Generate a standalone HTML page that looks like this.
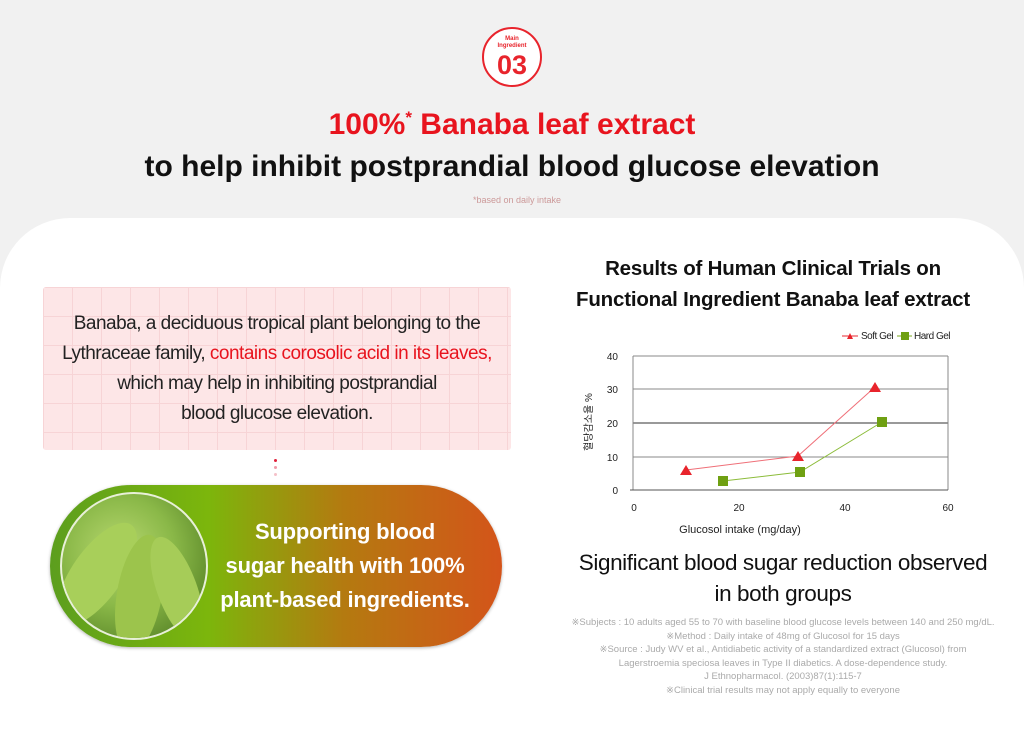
<!DOCTYPE html>
<html><head><meta charset="utf-8"><style>
*{margin:0;padding:0;box-sizing:border-box}
body{width:1024px;height:726px;background:#f1f1f1;position:relative;overflow:hidden;font-family:"Liberation Sans",sans-serif}
.abs{position:absolute}
.c{text-align:center}
</style></head><body>
<div class="abs" style="left:0;top:218px;width:1024px;height:520px;background:#fff;border-radius:70px 70px 0 0"></div>
<div class="abs" style="left:482px;top:27px;width:60px;height:60px;border:2px solid #e8242c;border-radius:50%;background:#fff"></div>
<div class="abs c" style="left:482px;top:36px;width:60px;font-size:6px;line-height:7px;color:#e8242c;font-weight:bold">Main<br>Ingredient</div>
<div class="abs c" style="left:482px;top:50px;width:60px;font-size:27px;line-height:30px;color:#e8242c;font-weight:bold">03</div>
<div class="abs c" style="left:0;top:108px;width:1024px;font-size:30px;font-weight:bold;color:#e8141e">100%<sup style="font-size:17px">*</sup> Banaba leaf extract</div>
<div class="abs c" style="left:0;top:150px;width:1024px;font-size:30px;font-weight:bold;color:#111">to help inhibit postprandial blood glucose elevation</div>
<div class="abs c" style="left:0;top:195px;width:1034px;font-size:9px;color:#c99">*based on daily intake</div>

<div class="abs" style="left:43px;top:287px;width:468px;height:163px;background-color:#fde6e7;background-image:linear-gradient(#f7d4d6 1px,transparent 1px),linear-gradient(90deg,#f7d4d6 1px,transparent 1px);background-size:29px 29px;border-radius:3px"></div>
<div class="abs c" style="left:30px;top:309px;width:494px;font-size:19px;line-height:30px;color:#222;letter-spacing:-0.5px">Banaba, a deciduous tropical plant belonging to the<br>Lythraceae family, <span style="color:#e8141e">contains corosolic acid in its leaves,</span><br>which may help in inhibiting postprandial<br>blood glucose elevation.</div>
<div class="abs" style="left:274px;top:459px;width:3px;height:3px;border-radius:50%;background:#e0203a"></div>
<div class="abs" style="left:274px;top:466px;width:3px;height:3px;border-radius:50%;background:#f09aa8"></div>
<div class="abs" style="left:274px;top:473px;width:3px;height:3px;border-radius:50%;background:#f5c0c8"></div>

<div class="abs" style="left:50px;top:485px;width:452px;height:162px;border-radius:81px;background:linear-gradient(90deg,#5c9e1e 0%,#7cb60c 35%,#b47a10 65%,#d4541a 100%);box-shadow:0 1px 3px rgba(0,0,0,.3)"></div>
<div class="abs" style="left:60px;top:492px;width:148px;height:148px;border-radius:50%;border:2px solid #e8f0d8;background:radial-gradient(circle at 40% 40%,#b8d870,#8ab848 45%,#5d8a2a 80%,#3f6320);overflow:hidden">
<div class="abs" style="left:10px;top:20px;width:50px;height:120px;background:#a8cf5a;border-radius:50%;transform:rotate(35deg)"></div>
<div class="abs" style="left:55px;top:40px;width:45px;height:120px;background:#9cc44c;border-radius:50%;transform:rotate(10deg)"></div>
<div class="abs" style="left:95px;top:40px;width:40px;height:110px;background:#a6cc58;border-radius:50%;transform:rotate(-20deg)"></div>
</div>
<div class="abs c" style="left:200px;top:515px;width:290px;font-size:22px;font-weight:bold;line-height:34px;color:#fff;letter-spacing:-0.2px">Supporting blood<br>sugar health with 100%<br>plant-based ingredients.</div>

<div class="abs c" style="left:530px;top:253px;width:486px;font-size:20.5px;line-height:31px;color:#111;font-weight:bold;letter-spacing:-0.2px">Results of Human Clinical Trials on<br>Functional Ingredient Banaba leaf extract</div>

<svg class="abs" style="left:0;top:0" width="1024" height="726">
<g font-family="Liberation Sans" font-size="10" fill="#222">
<polygon points="847,339 853,339 850,333" fill="#e8242c"/><line x1="842" y1="336" x2="858" y2="336" stroke="#e8242c"/>
<text x="861" y="339" letter-spacing="-0.5">Soft Gel</text>
<line x1="897" y1="336" x2="912" y2="336" stroke="#7aaa1e"/><rect x="901" y="332" width="8" height="8" fill="#6fa012"/>
<text x="914" y="339" letter-spacing="-0.5">Hard Gel</text>
<g stroke="#888" stroke-width="1"><line x1="633" y1="356" x2="948" y2="356"/><line x1="633" y1="389" x2="948" y2="389"/><line x1="633" y1="457" x2="948" y2="457"/></g>
<line x1="633" y1="423" x2="948" y2="423" stroke="#333"/>
<line x1="633" y1="356" x2="633" y2="490" stroke="#888"/><line x1="948" y1="356" x2="948" y2="490" stroke="#888"/>
<line x1="630" y1="490" x2="948" y2="490" stroke="#555"/>
<g text-anchor="end"><text x="618" y="360">40</text><text x="618" y="393">30</text><text x="618" y="427">20</text><text x="618" y="461">10</text><text x="618" y="494">0</text></g>
<g text-anchor="middle"><text x="634" y="511">0</text><text x="739" y="511">20</text><text x="845" y="511">40</text><text x="948" y="511">60</text></g>
<text x="740" y="533" text-anchor="middle" font-size="11">Glucosol intake (mg/day)</text>
<text x="0" y="0" transform="translate(592,422) rotate(-90)" text-anchor="middle" font-size="10" font-family="Liberation Sans,Noto Sans CJK KR,sans-serif">혈당감소율 %</text>
<polyline points="686,470 798,456 875,387" fill="none" stroke="#ef6f78"/>
<polyline points="723,481 800,472 882,422" fill="none" stroke="#8cbc3a"/>
<g fill="#e8242c"><polygon points="680,475 692,475 686,465"/><polygon points="792,461 804,461 798,451"/><polygon points="869,392 881,392 875,382"/></g>
<g fill="#6fa012"><rect x="718" y="476" width="10" height="10"/><rect x="795" y="467" width="10" height="10"/><rect x="877" y="417" width="10" height="10"/></g>
</g>
</svg>

<div class="abs c" style="left:530px;top:547px;width:506px;font-size:22.5px;line-height:31px;color:#111;letter-spacing:-0.4px">Significant blood sugar reduction observed<br>in both groups</div>
<div class="abs c" style="left:540px;top:616px;width:486px;font-size:9.5px;line-height:13.6px;color:#aaa">※Subjects : 10 adults aged 55 to 70 with baseline blood glucose levels between 140 and 250 mg/dL.<br>※Method : Daily intake of 48mg of Glucosol for 15 days<br>※Source : Judy WV et al., Antidiabetic activity of a standardized extract (Glucosol) from<br>Lagerstroemia speciosa leaves in Type II diabetics. A dose-dependence study.<br>J Ethnopharmacol. (2003)87(1):115-7<br>※Clinical trial results may not apply equally to everyone</div>
</body></html>
